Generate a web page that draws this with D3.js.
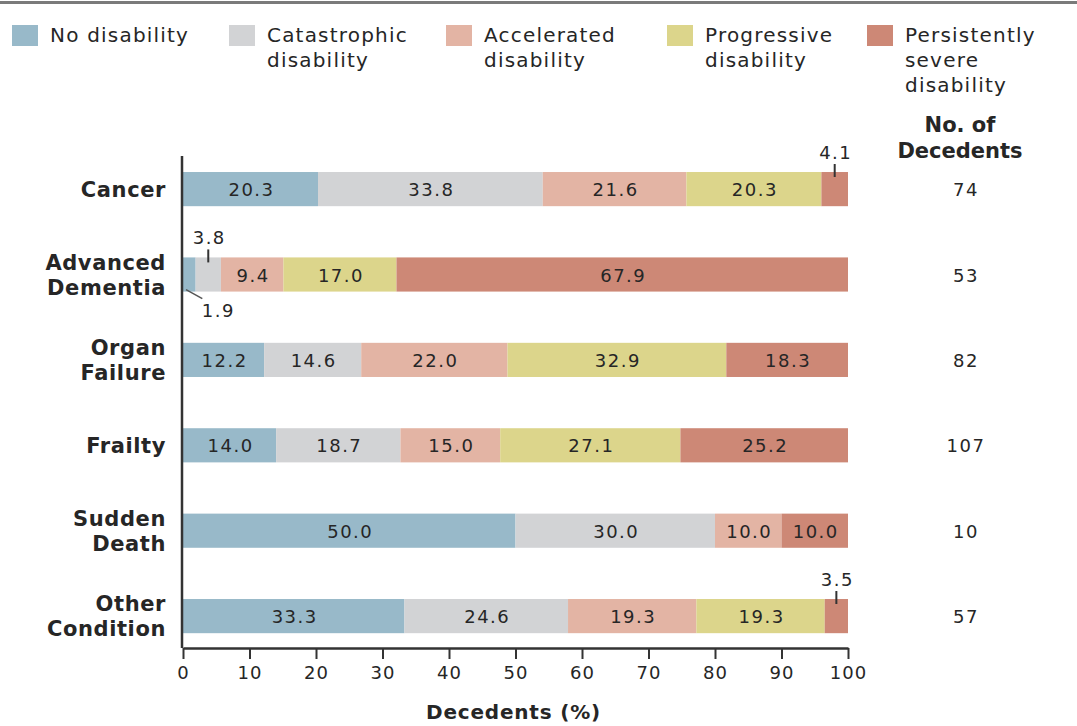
<!DOCTYPE html>
<html>
<head>
<meta charset="utf-8">
<script src="https://cdn.jsdelivr.net/npm/d3@7"></script>
<style>
  body { margin: 0; background: #fff; }
  text { font-family: "DejaVu Sans", "Open Sans", sans-serif; fill: #262626; }
</style>
</head>
<body>
<div id="chart"></div>
<script>
// data
const categories = ["Cancer", "Advanced Dementia", "Organ Failure", "Frailty", "Sudden Death", "Other Condition"];
const categoryLines = [["Cancer"], ["Advanced", "Dementia"], ["Organ", "Failure"], ["Frailty"], ["Sudden", "Death"], ["Other", "Condition"]];
const seriesNames = ["No disability", "Catastrophic disability", "Accelerated disability", "Progressive disability", "Persistently severe disability"];
const legendLines = [["No disability"], ["Catastrophic", "disability"], ["Accelerated", "disability"], ["Progressive", "disability"], ["Persistently", "severe", "disability"]];
const noDisability      = [20.3, 1.9, 12.2, 14.0, 50.0, 33.3];
const catastrophic      = [33.8, 3.8, 14.6, 18.7, 30.0, 24.6];
const accelerated       = [21.6, 9.4, 22.0, 15.0, 10.0, 19.3];
const progressive       = [20.3, 17.0, 32.9, 27.1, 0, 19.3];
const persistentSevere  = [4.1, 67.9, 18.3, 25.2, 10.0, 3.5];
const decedents = [74, 53, 82, 107, 10, 57];
const xTicks = [0, 10, 20, 30, 40, 50, 60, 70, 80, 90, 100];

const colors = ["#98b9c9", "#d2d3d5", "#e3b4a4", "#dcd58b", "#cd8876"];

const W = 1077, H = 726;
const svg = d3.select("#chart").append("svg")
    .attr("width", W)
    .attr("height", H);

// top rule
svg.append("rect").attr("x", 0).attr("y", 1).attr("width", W).attr("height", 3).attr("fill", "#7a7a7a");

const x = d3.scaleLinear().domain([0, 100]).range([183, 848]);
const y = d3.scaleBand().domain(categories).range([146.4, 658.8]).paddingInner(0.6).paddingOuter(0.3);

const seriesValues = [noDisability, catastrophic, accelerated, progressive, persistentSevere];
const rows = categories.map((c, i) => {
    const r = {category: c};
    seriesNames.forEach((s, j) => r[s] = seriesValues[j][i]);
    return r;
});
const stacked = d3.stack().keys(seriesNames)(rows);

// legend
const legendX = [12, 229, 446, 667, 867];
const legend = svg.selectAll(".legend").data(seriesNames).enter().append("g")
    .attr("class", "legend")
    .attr("transform", (d, i) => `translate(${legendX[i]},25)`);
legend.append("rect").attr("width", 26).attr("height", 21).attr("fill", (d, i) => colors[i]);
legend.append("text")
    .attr("y", 17)
    .style("font-size", "20px")
    .style("letter-spacing", "1.2px")
    .selectAll("tspan").data((d, i) => legendLines[i]).enter().append("tspan")
    .attr("x", 38).attr("dy", (d, i) => i === 0 ? 0 : 25)
    .text(d => d);

// bars
const layer = svg.selectAll(".layer").data(stacked).enter().append("g")
    .attr("class", "layer")
    .attr("fill", (d, i) => colors[i]);

layer.selectAll("rect").data(d => d).enter().append("rect")
    .attr("x", d => x(d[0]))
    .attr("y", d => y(d.data.category))
    .attr("width", d => Math.max(0, x(Math.min(100, d[1])) - x(d[0])))
    .attr("height", y.bandwidth());

// value labels
const barLabels = [];
stacked.forEach((s, si) => {
    s.forEach((v, ci) => {
        const val = v[1] - v[0];
        if (val <= 0) return;
        barLabels.push({val, si, ci, mid: (v[0] + Math.min(100, v[1])) / 2, cat: v.data.category});
    });
});

const inside = barLabels.filter(d => d.val >= 5);
svg.selectAll(".vlabel").data(inside).enter().append("text")
    .attr("class", "vlabel")
    .attr("x", d => x(d.mid) + 1)
    .attr("y", d => y(d.cat) + y.bandwidth() / 2 + 7)
    .attr("text-anchor", "middle")
    .style("font-size", "18px")
    .style("letter-spacing", "1.5px")
    .text(d => d.val.toFixed(1));

// small values get callouts
const small = barLabels.filter(d => d.val < 5);
small.forEach(d => {
    const top = y(d.cat);
    const cx = x(d.mid);
    const below = small.some(o => o.ci === d.ci && o.si > d.si);
    if (below) {
        const by = top + y.bandwidth();
        svg.append("line")
            .attr("x1", x(0) + 3).attr("y1", by - 2)
            .attr("x2", cx + 13).attr("y2", by + 7)
            .attr("stroke", "#555").attr("stroke-width", 1.5);
        svg.append("text")
            .attr("x", cx + 29).attr("y", by + 25)
            .attr("text-anchor", "middle")
            .style("font-size", "18px")
            .style("letter-spacing", "1.5px")
            .text(d.val.toFixed(1));
    } else {
        svg.append("line")
            .attr("x1", cx).attr("x2", cx)
            .attr("y1", top - 8).attr("y2", top + 5)
            .attr("stroke", "#333").attr("stroke-width", 2);
        svg.append("text")
            .attr("x", cx + 1).attr("y", top - 13)
            .attr("text-anchor", "middle")
            .style("font-size", "18px")
            .style("letter-spacing", "1.5px")
            .text(d.val.toFixed(1));
    }
});

// category labels
const catLabel = svg.selectAll(".cat").data(categories).enter().append("text")
    .attr("class", "cat")
    .attr("text-anchor", "end")
    .style("font-size", "21px")
    .style("font-weight", "bold")
    .style("letter-spacing", "0.6px")
    .attr("y", d => y(d) + y.bandwidth() / 2);
catLabel.selectAll("tspan").data((d, i) => categoryLines[i].map(t => ({t, n: categoryLines[i].length})))
    .enter().append("tspan")
    .attr("x", 166)
    .attr("dy", (d, i) => i === 0 ? (d.n === 1 ? 8 : -5) : 25)
    .text(d => d.t);

// decedent counts
const head = svg.append("text").attr("text-anchor", "middle")
    .style("font-size", "21px").style("font-weight", "bold");
head.append("tspan").attr("x", 960).attr("y", 132).text("No. of");
head.append("tspan").attr("x", 960).attr("y", 158).text("Decedents");
svg.selectAll(".count").data(decedents).enter().append("text")
    .attr("class", "count")
    .attr("x", 966)
    .attr("y", (d, i) => y(categories[i]) + y.bandwidth() / 2 + 7)
    .attr("text-anchor", "middle")
    .style("font-size", "18px")
    .style("letter-spacing", "1.5px")
    .text(d => d);

// axes
const axisY = 648;
const xAxis = svg.append("g")
    .attr("transform", `translate(0,${axisY})`)
    .call(d3.axisBottom(x).tickValues(xTicks).tickSize(11).tickSizeOuter(0).tickPadding(7));
xAxis.select(".domain").attr("stroke", "#333").attr("stroke-width", 2.5);
xAxis.selectAll(".tick line").attr("stroke", "#333").attr("stroke-width", 2);
xAxis.selectAll(".tick text")
    .style("font-size", "18px")
    .style("font-family", "DejaVu Sans, sans-serif")
    .style("letter-spacing", "1px")
    .attr("fill", "#262626");

svg.append("line")
    .attr("x1", x(0) - 1).attr("x2", x(0) - 1)
    .attr("y1", 156).attr("y2", axisY)
    .attr("stroke", "#333").attr("stroke-width", 2.5);

svg.append("text")
    .attr("x", x(50) - 2).attr("y", 719)
    .attr("text-anchor", "middle")
    .style("font-size", "20px")
    .style("font-weight", "bold")
    .style("letter-spacing", "0.8px")
    .text("Decedents (%)");
</script>
</body>
</html>
